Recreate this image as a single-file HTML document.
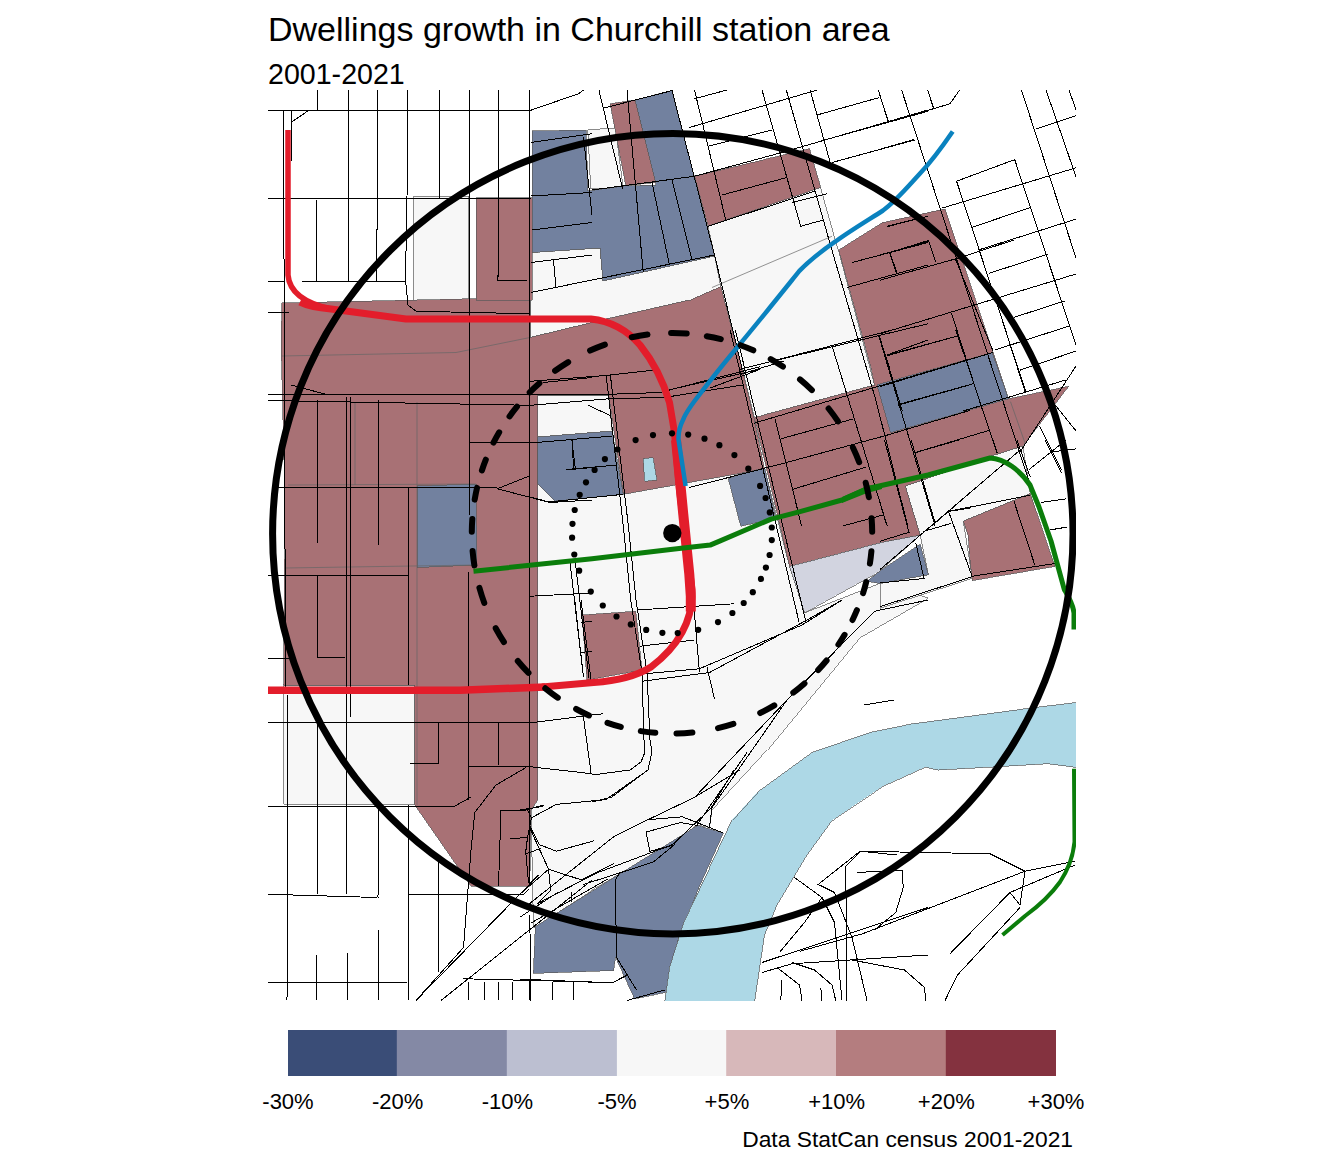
<!DOCTYPE html>
<html><head><meta charset="utf-8">
<style>
html,body{margin:0;padding:0;background:#fff;width:1344px;height:1152px;overflow:hidden}
svg{display:block;position:absolute;left:0;top:0}
text{font-family:"Liberation Sans",sans-serif;fill:#000}
</style></head><body>
<svg width="1344" height="1152" viewBox="0 0 1344 1152">
<text x="268" y="40.5" font-size="34">Dwellings growth in Churchill station area</text>
<text x="268" y="84" font-size="28.6">2001-2021</text>
<defs><clipPath id="mc"><rect x="268" y="90" width="808" height="911"/></clipPath></defs>
<g clip-path="url(#mc)">
<g stroke="#5a5a5a" stroke-width="0.7" shape-rendering="crispEdges">
<path fill="#f7f7f7" d="M413.5,196 L468.5,196 L468.5,300 L413.5,305Z"/>
<path fill="#f7f7f7" d="M283.5,685 L414.75,685 L414.75,804 L283.5,804Z"/>
<path fill="#f7f7f7" d="M537,405 L617,405 L623,494 L764.5,468.75 L789.5,566.25 L804.5,612.5 L880,583 L928,598 L859.5,637.5 L767,750 L712,810 L709.5,827.5 L697,825 L672,843.75 L592,890 L533.5,927.5 L531,810 L537,800Z"/>
<path fill="#f7f7f7" d="M708,226 L820.75,187.5 L838,248.75 L874.5,385 L754.5,417.5 L742,368 L720.75,286.25 L714.5,256Z"/>
<path fill="#f7f7f7" d="M530,252.5 L600,248 L603,281 L714.5,256 L720.75,286.25 L689.5,300 L592,322.5 L530,337.5Z"/>
<path fill="#f7f7f7" d="M905.3,486.1 L990.1,456.4 L1022.9,446 L1030.3,493.6 L963.3,521.1 L972.3,578.4 L880,608.2 L880,583 L928.4,574.7 L920.2,535.2Z"/>
<path fill="#f7f7f7" d="M537.7,395 L608.7,395 L612.1,431 L537.7,437Z"/>
<path fill="#f7f7f7" d="M587.8,129.9 L615.5,127.9 L623.1,188 L590.7,189Z"/>
<path fill="#a87175" d="M282,303 L530,297.5 L530,337.5 L592,322.5 L607,318.75 L689.5,300 L720.75,286.25 L742,368 L754.2,419 L764.5,469 L623.3,494.3 L608.7,395 L537.7,395 L537.7,800 L531,810 L529.75,886 L471,886 L414.75,805 L414.75,685 L283.5,685 L285,500 L281,340Z"/>
<path fill="#a87175" d="M838.75,250 L882.5,222.5 L945,208.75 L1008.75,398.75 L1068.75,386.25 L1022.9,446 L990.1,456.4 L905.3,486.1 L920.2,535.2 L880,542.7 L789.5,566.25 L754.5,417.5 L874.5,385 L871,368Z"/>
<path fill="#a87175" d="M694.5,176 L809.5,148.75 L820.75,187.5 L708,226Z"/>
<path fill="#a87175" d="M476,197.5 L532,197.5 L532,300 L476,300Z"/>
<path fill="#a87175" d="M963.3,521.1 L1030.3,493.6 L1054.9,566.5 L972.3,580.6 L970,560 L968,535Z"/>
<path fill="#a87175" d="M582,615 L635.75,611.25 L642,670 L587,680Z"/>
<path fill="#72819f" d="M532,131 L586,130 L588,191 L624,186 L656,185 L635,100 L672,90.5 L694.5,176.25 L714.5,256 L603,281 L600,248 L532,252.5Z"/>
<path fill="#a87175" d="M610.1,103.75 L635.1,100 L655.75,182.5 L625.75,185.6Z"/>
<path fill="#72819f" d="M537.7,437 L612.1,431 L623.3,494.3 L554.8,501.1 L537.7,484Z"/>
<path fill="#72819f" d="M417,486 L476,484 L477,565 L417,567.5Z"/>
<path fill="#72819f" d="M740,473.8 L764.8,467.8 L775.9,518.3 L740.75,526.25 L728.25,478.75Z"/>
<path fill="#72819f" d="M876.9,384.8 L992.5,352.5 L1008.75,398.75 L890.6,432.7Z"/>
<path fill="#d2d4e0" d="M789.5,566.25 L880,542.7 L920.2,535.2 L880,571 L804.5,612.5Z"/>
<path fill="#72819f" d="M880,571 L920.2,544.2 L928.4,574.7 L880,583.6 L867,581.25Z"/>
<path fill="#72819f" d="M535.3,926.6 L697.6,825.4 L723.4,833 L700,885 L678.5,938.1 L667,992 L634.5,998.75 L615.5,957.2 L613.6,970.5 L533.4,973.4Z"/>
<path fill="#add8e6" d="M643.25,458.75 L653.25,457.5 L657,480 L644.5,481.25Z"/>
<path fill="#add8e6" d="M1080,702 L1025,708.75 L912.5,723.75 L870,732.5 L812,752.5 L757,792.5 L732,820 L709.5,867.5 L684.5,920 L669.5,967.5 L664.5,1002 L754.5,1002 L764.5,935 L777,905 L807,855 L832.5,820 L882.5,786.25 L925,767 L937.5,770 L1005,766.25 L1047.5,763.75 L1080,768Z"/>
</g>
<path fill="none" stroke="#666" stroke-width="0.7" d="M282,356 L456,352.5 L530,337.5 M712,287.5 L832,236.25 M355,402 L355,485 M417,402 L417,805 M288,485 L476,484 M1010.5,401.7 L1025,443 M285,568 L476,565"/>
<path fill="none" stroke="#000" stroke-width="1" shape-rendering="crispEdges" d="M268,110.5 L530,110.5 L578.5,93.75 L583.5,90
M317,90 L317,110.5
M348.5,90 L348.5,281
M377.75,90 L376.75,281
M408,90 L407,197.5 L405.5,280 L408,305 L416,311.25 L530,313.75
M439.75,90 L439.75,197.5
M469.75,90 L469.75,515
M499,90 L498,280 L527,280
M529.75,90 L529.75,886
M283.5,110.5 L285.5,690
M291,110.5 L291,161
M291,122.5 L308.5,110.5
M268,198.25 L531,198.25
M316,198.25 L317,281
M268,281 L283.5,281
M302,281 L406,281
M268,312.5 L288.5,312.5
M531,142.5 L592,133.75
M532,230 L592,222.5
M531,262.5 L592,255
M531,292.5 L592,280
M553.5,260 L556,287.5
M583.5,137.5 L592,215
M531,196 L592,192.5
M598.9,90 L622.6,188.75
M627,90 L643.25,272.5
M672,90.5 L714.5,255 L742,368
M694.5,90 L725.75,220
M762,90 L800.75,226.25 L823.25,220
M878.25,90 L888.25,121.25
M694.5,98.75 L727,90
M689.5,127.5 L817,90
M708.25,146.25 L772,130
M592,190 L694.5,176.25 L782,152.5 L928,110
M817,115 L879.5,97.5
M708.25,226.25 L814.5,191.25
M722,195 L787,177.5
M792,202.5 L827,193.75
M824.5,140 L928,111.25
M832,162.5 L914.5,140
M592,280 L714.5,255
M852,262.5 L928,242.5
M847,287.5 L928,265
M887,226.25 L928,216.25
M889.5,252.5 L897,272.5
M767,362.5 L928,323.75
M879.5,337.5 L889.5,368
M887,355 L928,340
M652,182.5 L669.5,265
M672,180 L692,260
M603.9,108.1 L635.1,100 L672,90.6
M786.3,90 L831.4,248.3 L875.8,400 L907.7,526
M810.1,90 L831,165.4
M880,95.6 L888.2,121.7
M901.6,90 L1040,515
M927.6,90 L933.6,108.3
M880,124.6 L950,103.8 L959.6,90
M880,149.2 L914.2,139.5
M956.6,181.2 L1014.7,159.6
M956.6,181.2 L1025.8,391.8
M1014.7,159.6 L1076,345
M1021.4,90 L1076,258
M1046,90 L1076,176.7
M1069,90 L1076,109.8
M1035.5,129.1 L1076,115.7
M942.5,208 L1076,167.8
M972.3,227.3 L1031,207.2
M979.7,249.6 L1076,219.1
M887.4,226.6 L924.6,216.9
M894.9,251 L927.6,240.7
M880,338.2 L902.3,411
M889.7,252.6 L896.4,272.7
M928.4,240 L935.8,262.3
M951.4,312.9 L982.7,411
M997.6,305.5 L1025.1,391.8
M880,254.9 L929.1,241.5
M880,280.2 L958.9,257.9 L1013.9,240
M988.6,273.5 L1048.2,254.1
M880,333.8 L1076,274
M886.7,355.3 L957.4,336
M1013.9,317.4 L1064.5,301
M994.6,350.1 L1070.5,325.6
M1019.9,370.2 L1076.4,350.9
M880,386.6 L993.1,352.4
M898.6,404.4 L973.8,383.6
M963.3,411 L1066,379.9
M1020,452 L1076,366
M955,258 L993,351

M1039.6,426 L1061.5,470
M1055.4,405.3 L1076,430.9
M268,395 L592,394 L612,394.2 L660,392.5 L709.7,379.6 L760,366.8
M268,400.5 L530,405.3 L612.1,398.5 L663.5,397.6 L743.9,384.8
M530,381.3 L607,375.4 L653.2,370.2
M668.6,389.9 L760,369.4
M709.7,388.2 L760,369.4
M588.2,405.3 L610.4,415.6
M291,385 L328.5,395
M274.75,487.5 L497.25,487.5
M268,575 L408.5,575
M346,397 L346,894
M350,397 L350,717
M317,400 L317,542.5
M378,400 L378,545
M408.5,487.5 L408.5,685
M468.5,442.5 L537,442.5
M497.25,488.75 L528.5,476.25
M497.25,488.75 L549.75,502.5 L592,500
M543.5,382.5 L592,377.5
M529.75,596.25 L592,593
M569.75,560 L583.5,677.5
M575,560 L589,677.5
M566,470 L592,467.5
M572.25,440 L573.5,470
M606.2,375.4 L623.3,526
M610.4,375.4 L628.4,526
M530,443 L612.1,436.1
M571.9,440.4 L575.4,469.5
M565.9,469.5 L615.6,465.2
M530,496.9 L548.8,502 L623.3,494.3
M689.2,487.5 L760,469.5
M775.1,419 L801.6,526
M832.4,347.1 L887.2,526
M878.6,335.1 L935.1,526
M955.8,330 L997.1,452.7
M740,369.4 L892.3,330
M740,374.5 L784.5,360.8
M753.7,423.3 L970,359.1
M781.1,438.7 L853,419
M740,474.6 L786.2,462.6 L883.8,436.1 L970,410.4
M793,489.2 L866.6,466.9
M887.2,355.7 L957.4,336
M897.5,405.3 L970,384.8
M912.9,453.2 L989.8,430.2
M842.7,526 L883.8,514.8
M931.7,526 L970,492.6
M948.8,511.4 L970,508
M884.5,440 L909,532.3 L880,541.2
M911.2,440 L935.1,523.3
M912.7,453.4 L958.9,440
M993.1,440 L997.6,453.4
M1016.9,440 L1030.3,477.2
M880,502.5 L886,523.3
M880,569.5 L1021.4,448.9
M1028.8,469.8 L1051.1,451.9 L1066,440
M1051.1,451.9 L1076.4,448.9
M1045.2,440 L1061.5,472.7
M923.2,531.5 L951.4,523.3
M948.5,511.4 L1030.3,495.1
M1040.7,502.5 L1066,498.8
M948.5,511.4 L972.3,576.9
M1013.9,501 L1034.8,565
M972.3,576.2 L1054.9,563.5
M1049.6,530 L1067.5,527
M880,606.7 L973.8,576.2
M880,582.9 L924.6,578.4
M915.7,542.7 L923.9,577.6
M623.3,526 L630.75,600
M628.4,526 L636,600
M730.2,330 L799,622
M735.4,330 L806,622
M630.75,600 L642,672.5 L644,740 L645,752 L641,762 L630,770 L592,775
M636,600 L647,672.5 L650,740 L652,752 L648,770 L612,797 L592,802
M592,715 L603,713.75
M637,610 L734.5,603.75
M639.5,646.25 L694.5,640
M644.5,673.75 L699.5,668.75
M642,681.25 L709.5,672.5
M693.25,600 L699.5,672.5
M707,667.5 L714.5,698.75
M699.5,668.75 L802,625 L842,600
M709.5,672.5 L807,620 L842,600
M928,600 L874.5,611.25 L787,700 L694.5,797.5
M787,700 L712,807.5 L709.5,827.5
M747,752.5 L697,825
M864.5,705 L894.5,700
M288,695 L287,1000
M317,575 L317,657.5
M317,722.5 L317,894.25
M316,955 L316,1000
M317,657.5 L344.75,658
M347,894 L347,894
M347,952.5 L347,1000
M378.5,805 L378,897.5
M378,930 L378,1000
M408.5,805 L408.5,1000
M468.5,572 L468.5,800
M498.5,722.5 L498.5,765
M268,658 L288.5,658
M268,722.5 L533.5,722.5 L592,715
M268,806 L455,806 L471,797
M409.75,763.75 L438.5,763.75
M438.5,722.5 L438.5,763.75
M468.5,766.25 L526,766.25 L592,773.75
M526,767.5 L496,785 L474.75,812.5 L471,850 L463.5,947.5 L416,1000.5
M583.5,717.5 L591,772.5
M574.75,600 L583.5,677.5
M581,600 L591,680
M581,622.5 L592,621
M581,652.5 L592,651
M268,894.25 L377.25,897.5
M408.5,894.25 L523.5,894.25 L529,889
M268,982 L407.25,982
M463.5,978.75 L592,982
M468.5,982 L468.5,1000
M484,982 L484,1000
M498,982 L498,1000
M512.25,982 L512.25,1000
M529.75,982 L529.75,1000
M552.25,982 L552.25,1000
M573.5,982 L573.5,1000
M438,855 L438.5,972.5
M538.5,875 L416,1000.5
M592,880 L441,1000.5
M529.75,915 L531,1000.5
M501,810 L526,810 L543.5,805
M501,810 L498.5,886.25
M509.75,838.75 L527.25,837.5
M627,1000.5 L664.5,990
M762,962.5 L928,907.5
M762,972.5 L792,963.75 L928,955
M794.5,877.5 L822,897.5 L834.5,922.5 L842,1000
M819.5,885 L834.5,892.5 L852,937.5 L867,1000.5
M845.75,866.25 L847,1000.5
M860.75,851.25 L897,855
M845.75,866.25 L860.75,851.25
M857,872.5 L902,870 L903.25,887.5 L895.75,912.5 L874.5,930
M779.5,952.5 L804.5,922.5 L822,897.5
M777,967.5 L799.5,985 L802,1000.5
M782,980 L780.75,1000.5
M792,962.5 L814.5,970 L832,985 L835.75,1000.5
M820.75,987.5 L822,1000.5
M852,960 L904.5,970 L924.5,987.5 L925.75,1000.5
M860,851.25 L990,853.75 L1025,871.25 L1075,861.25
M800,951.25 L862.5,933.75 L1025,871.25
M950,953.75 L1010,892.5 L1020,905 L1025,871.25
M1010,892.5 L1075,865
M1020,907.5 L957.5,975 L945,1000.5
M817.5,885 L860,851.25
M520,810.1 L542.9,806.3
M531.5,817.7 L556.3,804.4 L605.9,799.6 L648,770
M529.5,825.4 L539.1,844.5 L556.3,851.2 L594.5,840.7
M525.7,854 L541,848.3
M527.6,810 L531.5,817.7 L527.6,836.8 L525.7,852.1 L528.6,882.7
M529.5,827.3 L548.6,869.3 L550.6,890.3 L537.2,903.7
M548.6,869.3 L581.1,879.8 L613.6,863.6
M520,894.1 L548.6,869.3
M529.5,903.7 L613.6,836.8 L648,819.7 L693.8,797.7 L740,770
M537.2,903.7 L596.4,873.1 L672.8,844.5 L711,808.2 L733.9,770
M520,917.1 L558.2,892.2
M531.5,922.8 L607.9,878.9
M571.6,892.2 L571.6,901.8
M583,884.6 L619.3,873.1 L653.7,861.7 L674.7,844.5
M619.3,873.1 L615.5,879.8 L616.4,957.2 L636.5,990
M646,832.1 L649.9,851.2 L672.8,845.4
M646,832.1 L680.4,822.5 L697.6,825.4
M648,819.7 L682.3,816.8 L723.4,833
M520,979.1 L611.7,983 L627,975.3
M529.5,979 L529.5,1000
M552.5,982 L552.5,1000
M573.5,983 L573.5,1000"/>
<g fill="none" stroke-linecap="butt" stroke-linejoin="round">
<path stroke="#e31d2b" stroke-width="5.5" d="M288,130 L288,275 Q290,300 331,309"/>
<path stroke="#e31d2b" stroke-width="7" d="M300,302 Q310,307 331,309 L406,319 L591,319 Q620,322 640,345 Q660,370 669.5,402.5 L674.5,432.5 L679.5,490 L685.75,540 L692,590 C693,620 680,645 651,667 C635,677 615,681 593.7,682.5 L542,687"/>
<path stroke="#e31d2b" stroke-width="10" d="M676,440 L679,470 L683.3,514.6 L686.3,544.4 L689.3,574.2 L690.8,596.5 L690.8,611.4"/>
<path stroke="#e31d2b" stroke-width="7.5" d="M545,687 L460,690.3 L268,690.3"/>
<path stroke="#0a82bf" stroke-width="4.5" d="M952.7,131.5 C940,150 930,163 920.2,173.3 C905,190 895,202 883,210.5 C865,222 850,231 836.6,240.7 C820,252 810,260 799.4,270.9 C780,295 760,320 739,345.2 C725,362 712,378 701.8,391.7 C692,404 686,412 683.2,419.6 C679,428 678,433 678.6,440 L685.6,486"/>
<path stroke="#0b7d0b" stroke-width="5" d="M473.5,571.25 L592,558.75 L683.3,548.1 L710.1,545.1 L719,541.4 L771.1,519.1 L800,511.7 L842,500 L867,488.75 L928,475 L990,458 C1005,459 1020,470 1030,485 L1039,507 L1051,541 L1064.2,589.2 C1068,596 1073,604 1074,613 L1074,629.4"/>
<path fill="#0b7d0b" stroke="none" d="M842,497 L867,486 L882,484 L882,489 L867,493 L842,503Z"/>
<path stroke="#0b7d0b" stroke-width="4" d="M1074,768.75 L1074.5,842 C1073,858 1068,870 1060,882 C1050,896 1040,905 1025,916 L1002.5,935"/>
</g>
<circle cx="672.8" cy="533.7" r="400.2" fill="none" stroke="#000" stroke-width="7"/>
<path fill="none" stroke="#000" stroke-width="6" stroke-linecap="round" d="M871.4,551.3 A200.2,200.2 0 0 1 869.9,563.6 M866.2,582.0 A200.2,200.2 0 0 1 863.1,593.1 M856.9,610.2 A200.2,200.2 0 0 1 852.5,620.0 M844.6,634.8 A200.2,200.2 0 0 1 838.4,644.6 M826.6,660.5 A200.2,200.2 0 0 1 818.1,670.1 M804.5,683.4 A200.2,200.2 0 0 1 793.3,692.6 M774.3,705.4 A200.2,200.2 0 0 1 760.2,713.0 M733.4,723.9 A200.2,200.2 0 0 1 718.0,728.1 M692.4,732.5 A200.2,200.2 0 0 1 676.5,733.5 M655.3,732.8 A200.2,200.2 0 0 1 640.8,731.1 M620.8,726.9 A200.2,200.2 0 0 1 607.5,722.8 M589.0,715.5 A200.2,200.2 0 0 1 576.1,709.0 M557.8,697.7 A200.2,200.2 0 0 1 545.3,688.3 M528.5,672.9 A200.2,200.2 0 0 1 517.8,661.0 M503.9,642.0 A200.2,200.2 0 0 1 495.7,628.2 M484.3,603.0 A200.2,200.2 0 0 1 479.4,587.8 M474.4,565.4 A200.2,200.2 0 0 1 472.6,550.9 M471.8,531.7 A200.2,200.2 0 0 1 472.3,518.9 M474.7,499.6 A200.2,200.2 0 0 1 477.0,487.9 M481.9,470.5 A200.2,200.2 0 0 1 485.8,459.7 M493.5,442.7 A200.2,200.2 0 0 1 499.2,432.3 M509.5,416.4 A200.2,200.2 0 0 1 517.0,406.6 M529.7,392.4 A200.2,200.2 0 0 1 539.4,383.3 M555.1,370.8 A200.2,200.2 0 0 1 568.2,362.1 M590.1,350.6 A200.2,200.2 0 0 1 604.9,344.7 M631.7,337.2 A200.2,200.2 0 0 1 647.5,334.6 M671.1,333.1 A200.2,200.2 0 0 1 686.7,333.6 M706.8,336.2 A200.2,200.2 0 0 1 720.8,339.1 M740.5,345.2 A200.2,200.2 0 0 1 753.3,350.3 M770.7,359.1 A200.2,200.2 0 0 1 782.9,366.6 M800.0,379.4 A200.2,200.2 0 0 1 811.9,390.1 M828.6,408.5 A200.2,200.2 0 0 1 838.0,421.4 M852.9,447.5 A200.2,200.2 0 0 1 859.2,462.2 M865.7,482.7 A200.2,200.2 0 0 1 868.9,497.2 M871.6,518.2 A200.2,200.2 0 0 1 872.2,531.8"/>
<g fill="#000">
<circle cx="672.0" cy="433.3" r="3.1"/>
<circle cx="688.2" cy="434.6" r="3.1"/>
<circle cx="704.5" cy="438.7" r="3.1"/>
<circle cx="719.4" cy="445.2" r="3.1"/>
<circle cx="734.4" cy="455.1" r="3.1"/>
<circle cx="748.3" cy="468.7" r="3.1"/>
<circle cx="760.1" cy="485.9" r="3.1"/>
<circle cx="765.6" cy="498.0" r="3.1"/>
<circle cx="769.8" cy="512.4" r="3.1"/>
<circle cx="771.8" cy="527.5" r="3.1"/>
<circle cx="771.8" cy="540.1" r="3.1"/>
<circle cx="769.6" cy="555.0" r="3.1"/>
<circle cx="765.9" cy="567.6" r="3.1"/>
<circle cx="761.0" cy="578.9" r="3.1"/>
<circle cx="752.8" cy="592.2" r="3.1"/>
<circle cx="743.7" cy="603.0" r="3.1"/>
<circle cx="732.4" cy="613.0" r="3.1"/>
<circle cx="718.0" cy="622.1" r="3.1"/>
<circle cx="572.5" cy="523.8" r="3.1"/>
<circle cx="574.3" cy="554.5" r="3.1"/>
<circle cx="579.2" cy="570.7" r="3.1"/>
<circle cx="590.8" cy="591.6" r="3.1"/>
<circle cx="602.8" cy="605.5" r="3.1"/>
<circle cx="616.5" cy="616.5" r="3.1"/>
<circle cx="630.8" cy="624.4" r="3.1"/>
<circle cx="646.2" cy="629.9" r="3.1"/>
<circle cx="662.4" cy="632.8" r="3.1"/>
<circle cx="677.7" cy="633.1" r="3.1"/>
<circle cx="653.0" cy="435.1" r="3.1"/>
<circle cx="635.6" cy="440.1" r="3.1"/>
<circle cx="617.4" cy="449.5" r="3.1"/>
<circle cx="604.9" cy="459.1" r="3.1"/>
<circle cx="594.6" cy="469.9" r="3.1"/>
<circle cx="586.0" cy="482.3" r="3.1"/>
<circle cx="579.7" cy="494.8" r="3.1"/>
<circle cx="574.7" cy="510.0" r="3.1"/>
<circle cx="572.1" cy="537.7" r="3.1"/>
<circle cx="698.2" cy="629.8" r="3.1"/>
</g>
<circle cx="672.3" cy="533.1" r="9.2" fill="#000"/>
</g>
<rect x="288" y="1030" width="109.3" height="46" fill="#3a4d77"/>
<rect x="396.8" y="1030" width="110.5" height="46" fill="#8489a5"/>
<rect x="506.8" y="1030" width="110.6" height="46" fill="#bcbfd1"/>
<rect x="616.9" y="1030" width="109.8" height="46" fill="#f7f7f7"/>
<rect x="726.2" y="1030" width="110.3" height="46" fill="#d7b8ba"/>
<rect x="836" y="1030" width="110.3" height="46" fill="#b47d7f"/>
<rect x="945.8" y="1030" width="110.2" height="46" fill="#84323f"/>
<g font-size="22" text-anchor="middle">
<text x="288" y="1109">-30%</text>
<text x="397.7" y="1109">-20%</text>
<text x="507.4" y="1109">-10%</text>
<text x="617.1" y="1109">-5%</text>
<text x="726.9" y="1109">+5%</text>
<text x="836.6" y="1109">+10%</text>
<text x="946.3" y="1109">+20%</text>
<text x="1056" y="1109">+30%</text>
</g>
<text x="1073" y="1147" font-size="22.8" text-anchor="end">Data StatCan census 2001-2021</text>
</svg>
</body></html>
